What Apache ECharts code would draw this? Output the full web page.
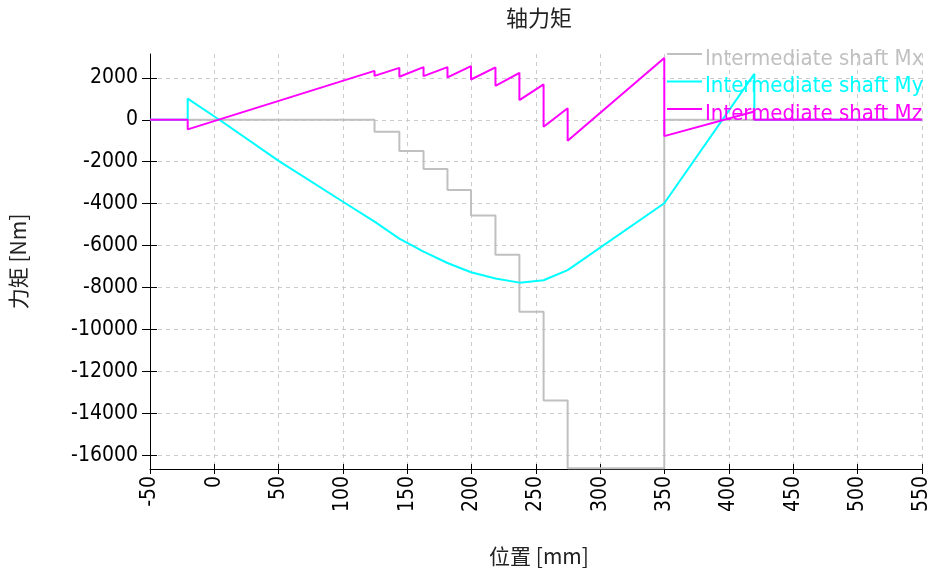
<!DOCTYPE html>
<html>
<head>
<meta charset="utf-8">
<script src="https://cdn.jsdelivr.net/npm/echarts@6/dist/echarts.min.js"></script>
<style>
  html, body { margin: 0; padding: 0; background: #ffffff; }
  #chart { width: 939px; height: 578px; }
</style>
</head>
<body>
<div id="chart"></div>
<script>
// Labels
const chartTitle = '轴力矩';
const xAxisName = '位置 [mm]';
const yAxisName = '力矩 [Nm]';
const seriesNames = ['Intermediate shaft Mx', 'Intermediate shaft My', 'Intermediate shaft Mz'];
const seriesColors = ['#c0c0c0', '#00ffff', '#ff00ff'];

// Axis ranges and tick values
const xRange = [-50, 550];
const xStep = 50;
const yRange = [-16650, 3135];
const yTicks = [2000, 0, -2000, -4000, -6000, -8000, -10000, -12000, -14000, -16000];

// Torsion moment Mx [position mm, moment Nm] (stepwise)
const mxPoints = [
  [-50, 0], [124.5, 0], [124.5, -570], [143.8, -570], [143.8, -1490],
  [162.6, -1490], [162.6, -2350], [181.2, -2350], [181.2, -3350],
  [199.5, -3350], [199.5, -4570], [218.5, -4570], [218.5, -6440],
  [237.1, -6440], [237.1, -9150], [255.9, -9150], [255.9, -13380],
  [274.6, -13380], [274.6, -16620], [349.7, -16620], [349.7, 0], [550, 0]
];

// Bending moment My [position mm, moment Nm]
const myPoints = [
  [-50, 0], [-20.7, 0], [-20.7, 1010], [3.9, 0], [50, -1960], [100, -3910],
  [124.5, -4860], [143.8, -5670], [162.6, -6290], [181.2, -6830],
  [199.5, -7270], [218.5, -7570], [237.1, -7765], [255.9, -7650],
  [274.6, -7170], [349.7, -3980], [419.7, 2190], [419.7, 0], [550, 0]
];

// Bending moment Mz [position mm, moment Nm]
const mzPoints = [
  [-50, 0], [-20.7, 0], [-20.7, -460], [124.5, 2330], [124.5, 2090],
  [143.8, 2475], [143.8, 2050], [162.6, 2510], [162.6, 2080],
  [181.2, 2510], [181.2, 2020], [199.5, 2555], [199.5, 1920],
  [218.5, 2495], [218.5, 1620], [237.1, 2240], [237.1, 940],
  [255.9, 1685], [255.9, -330], [274.6, 545], [274.6, -1000],
  [349.7, 2940], [349.7, -780], [419.7, 390], [419.7, 0], [550, 0]
];

const seriesPoints = [mxPoints, myPoints, mzPoints];

const labelFont = 'DejaVu Sans Condensed';
const cjkFont = 'Noto Sans CJK SC';
const gridDash = { color: '#cccccc', width: 1, type: [4, 4] };

// Legend swatch: a thin bar at the top of a 35x12 box (the second,
// zero-area subpath only stretches the box so the bar sits above the text middle)
const legendSwatch = 'path://M0,0L35,0L35,2L0,2Z M0,12L0.01,12';

const chart = echarts.init(document.getElementById('chart'), null, { renderer: 'canvas' });

chart.setOption({
  animation: false,
  backgroundColor: '#ffffff',
  title: {
    text: chartTitle,
    left: 501,
    top: 2,
    textStyle: {
      fontFamily: cjkFont,
      fontSize: 22,
      fontWeight: 'normal',
      color: '#222222'
    }
  },
  legend: {
    orient: 'vertical',
    left: 667,
    top: 48,
    icon: legendSwatch,
    itemWidth: 35,
    itemHeight: 12,
    itemGap: 5.5,
    padding: 0,
    selectedMode: false,
    data: seriesNames.map((name, i) => ({
      name: name,
      textStyle: { color: seriesColors[i] }
    })),
    textStyle: {
      fontFamily: labelFont,
      fontSize: 22,
      lineHeight: 22,
      padding: [0, 0, 0, -2]
    }
  },
  grid: {
    left: 150,
    right: 17,
    top: 54,
    bottom: 109,
    containLabel: false
  },
  xAxis: [
    {
      type: 'value',
      min: xRange[0],
      max: xRange[1],
      interval: xStep,
      name: xAxisName,
      nameLocation: 'middle',
      nameGap: 77,
      nameTextStyle: {
        fontFamily: cjkFont,
        fontSize: 21,
        color: '#222222',
        padding: [0, 0, 0, 6]
      },
      axisLine: { show: true, onZero: false, lineStyle: { color: '#000000', width: 1 } },
      axisTick: { show: true, inside: false, length: 5, lineStyle: { color: '#000000' } },
      axisLabel: {
        rotate: 90,
        margin: 7,
        fontFamily: labelFont,
        fontSize: 21,
        color: '#000000',
        showMinLabel: true,
        showMaxLabel: true
      },
      splitLine: { show: true, lineStyle: gridDash }
    },
    {
      type: 'value',
      position: 'bottom',
      min: xRange[0],
      max: xRange[1],
      interval: xStep,
      axisLine: { show: false, onZero: false },
      axisTick: { show: true, inside: true, length: 5, lineStyle: { color: '#000000' } },
      axisLabel: { show: false },
      splitLine: { show: false }
    }
  ],
  yAxis: [
    {
      type: 'value',
      min: yRange[0],
      max: yRange[1],
      name: yAxisName,
      nameLocation: 'middle',
      nameGap: 121,
      nameTextStyle: {
        fontFamily: cjkFont,
        fontSize: 21,
        color: '#222222'
      },
      axisLine: { show: true, onZero: false, lineStyle: { color: '#000000', width: 1 } },
      axisTick: { show: true, inside: false, length: 8, customValues: yTicks, lineStyle: { color: '#000000' } },
      axisLabel: {
        customValues: yTicks,
        margin: 12,
        fontFamily: labelFont,
        fontSize: 21,
        color: '#000000',
        formatter: (v) => String(v)
      },
      splitLine: { show: true, lineStyle: gridDash }
    },
    {
      type: 'value',
      position: 'left',
      min: yRange[0],
      max: yRange[1],
      axisLine: { show: false, onZero: false },
      axisTick: { show: true, inside: true, length: 7, customValues: yTicks, lineStyle: { color: '#000000' } },
      axisLabel: { show: false },
      splitLine: { show: false }
    }
  ],
  series: seriesPoints.map((points, i) => ({
    name: seriesNames[i],
    type: 'line',
    xAxisIndex: 0,
    yAxisIndex: 0,
    data: points,
    symbol: 'none',
    color: seriesColors[i],
    lineStyle: { color: seriesColors[i], width: 2 },
    clip: true,
    z: 2 + i
  }))
});
</script>
</body>
</html>
